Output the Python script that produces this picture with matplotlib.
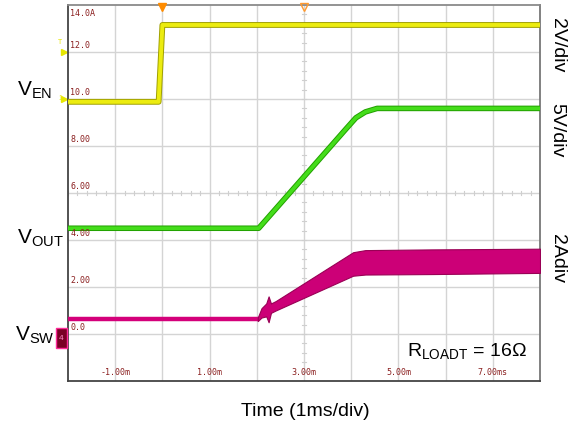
import matplotlib
matplotlib.use("Agg")
import matplotlib.pyplot as plt
import numpy as np
from matplotlib.patches import Rectangle

plt.rcParams['font.family'] = ['Liberation Sans', 'DejaVu Sans']

# ---- data (time in ms, screen units where 1 div = 2 units) ----
ven_t = [-2.0, -0.08, 0.0, 8.0]
ven_v = [9.88, 9.88, 13.15, 13.15]

vout_t = [-2.0, 2.04, 3.9, 4.1, 4.3, 4.55, 8.0]
vout_v = [4.5, 4.5, 8.75, 9.2, 9.45, 9.6, 9.6]

vsw_low_t = [-2.0, 2.05]
vsw_low_v = [0.62, 0.62]

vsw_band_t = [2.02, 2.1, 2.2, 2.25, 2.3, 2.4, 4.04, 4.3, 5.7, 8.0]
vsw_top = [0.7, 1.1, 1.3, 1.6, 1.3, 1.4, 3.48, 3.57, 3.6, 3.63]
vsw_bot = [0.55, 0.7, 0.75, 0.5, 0.9, 1.0, 2.48, 2.53, 2.55, 2.6]

y_tick_vals = [14, 12, 10, 8, 6, 4, 2, 0]
y_tick_labels = ["14.0A", "12.0", "10.0", "8.00", "6.00", "4.00", "2.00", "0.0"]
x_tick_vals = [-1, 1, 3, 5, 7]
x_tick_labels = ["-1.00m", "1.00m", "3.00m", "5.00m", "7.00ms"]

fig = plt.figure(figsize=(5.71, 4.34), dpi=100)
ax = fig.add_axes([68/571, 53/434, 472/571, 376/434])
ax.set_xlim(-2, 8)
ax.set_ylim(-2, 14)

# grid
for xv in np.arange(-1, 8, 1):
    ax.axvline(xv, color='#d4d4d4', lw=1.0, zorder=0)
for yv in np.arange(0, 14, 2):
    ax.axhline(yv, color='#d4d4d4', lw=1.0, zorder=0)
# center cross minor ticks
for yv in np.arange(-2, 14.01, 0.4):
    ax.plot([2.95, 3.05], [yv, yv], color='#cfcfcf', lw=0.8, zorder=0)
for xv in np.arange(-2, 8.01, 0.2):
    ax.plot([xv, xv], [5.9, 6.1], color='#cfcfcf', lw=0.8, zorder=0)

ax.set_xticks([])
ax.set_yticks([])
for s in ['left', 'bottom', 'right']:
    ax.spines[s].set_color('#444444')
    ax.spines[s].set_linewidth(1.3)
ax.spines['top'].set_color('#8a8a8a')
ax.spines['top'].set_linewidth(1.3)
ax.spines['right'].set_color('#777777')

# traces
ax.plot(ven_t, ven_v, color='#a0a000', lw=4.2, solid_capstyle='butt', zorder=3)
ax.plot(ven_t, ven_v, color='#ecec10', lw=2.8, solid_capstyle='butt', zorder=3)
ax.plot(vout_t, vout_v, color='#22a000', lw=4.0, solid_capstyle='butt', zorder=3)
ax.plot(vout_t, vout_v, color='#44dd1a', lw=2.6, solid_capstyle='butt', zorder=3)
ax.plot(vsw_low_t, vsw_low_v, color='#d4007a', lw=3.2, solid_capstyle='butt', zorder=3)
ax.fill_between(vsw_band_t, vsw_bot, vsw_top, color='#cc0077', lw=0.8,
                edgecolor='#990055', zorder=3)

# tick labels inside
for yv, lab in zip(y_tick_vals, y_tick_labels):
    if yv == 14:
        ax.text(-1.95, 13.85, lab, fontsize=6, family='DejaVu Sans Mono',
                color='#8b2020', va='top', ha='left', zorder=4)
    else:
        ax.text(-1.95, yv + 0.1, lab, fontsize=6, family='DejaVu Sans Mono',
                color='#8b2020', va='bottom', ha='left', zorder=4)
for xv, lab in zip(x_tick_vals, x_tick_labels):
    ax.text(xv, -1.85, lab, fontsize=6, family='DejaVu Sans Mono',
            color='#8b2020', va='bottom', ha='center', zorder=4)

# top markers
ax.plot([0], [13.93], marker='v', color='#ff8c00', markersize=6, clip_on=False, zorder=5)
ax.plot([3], [13.93], marker='v', markerfacecolor='none', markeredgecolor='#ff9a30',
        markersize=6, clip_on=False, zorder=5)

# left channel markers (outside)
ax.plot([-2.08], [12.0], marker='>', color='#e6e600', markersize=5, clip_on=False)
ax.text(-2.13, 12.25, 'T', fontsize=5, color='#e6e600', ha='right', va='bottom')
ax.plot([-2.08], [10.0], marker='>', color='#e6e600', markersize=5, clip_on=False)
ax.text(-2.13, 10.0, '1', fontsize=5, color='#e6e600', ha='right', va='center')
rect = Rectangle((56/571, (434-348)/434), 11/571, 20/434, transform=fig.transFigure,
                 facecolor='#7a0025', edgecolor='#ff2a9a', lw=1.0)
fig.patches.append(rect)
fig.text(61.5/571, (434-338)/434, '4', fontsize=6, color='#ff8cc8', ha='center', va='center')

# annotations
fig.text(35/571, (434-90)/434, r'V$_{\mathregular{EN}}$', fontsize=15, ha='center', va='center')
fig.text(40/571, (434-238)/434, r'V$_{\mathregular{OUT}}$', fontsize=15, ha='center', va='center')
fig.text(35/571, (434-335)/434, r'V$_{\mathregular{SW}}$', fontsize=15, ha='center', va='center')
fig.text(557/571, (434-45)/434, '2V/div', fontsize=14, rotation=-90, ha='center', va='center')
fig.text(557/571, (434-130)/434, '5V/div', fontsize=14, rotation=-90, ha='center', va='center')
fig.text(557/571, (434-258)/434, '2Adiv', fontsize=14, rotation=-90, ha='center', va='center')
fig.text(467/571, (434-352)/434, r'R$_{\mathregular{LOADT}}$ = 16Ω', fontsize=14,
         ha='center', va='center')
fig.text(305/571, (434-412)/434, 'Time (1ms/div)', fontsize=14, ha='center', va='center')

fig.savefig('out.png', dpi=100)
